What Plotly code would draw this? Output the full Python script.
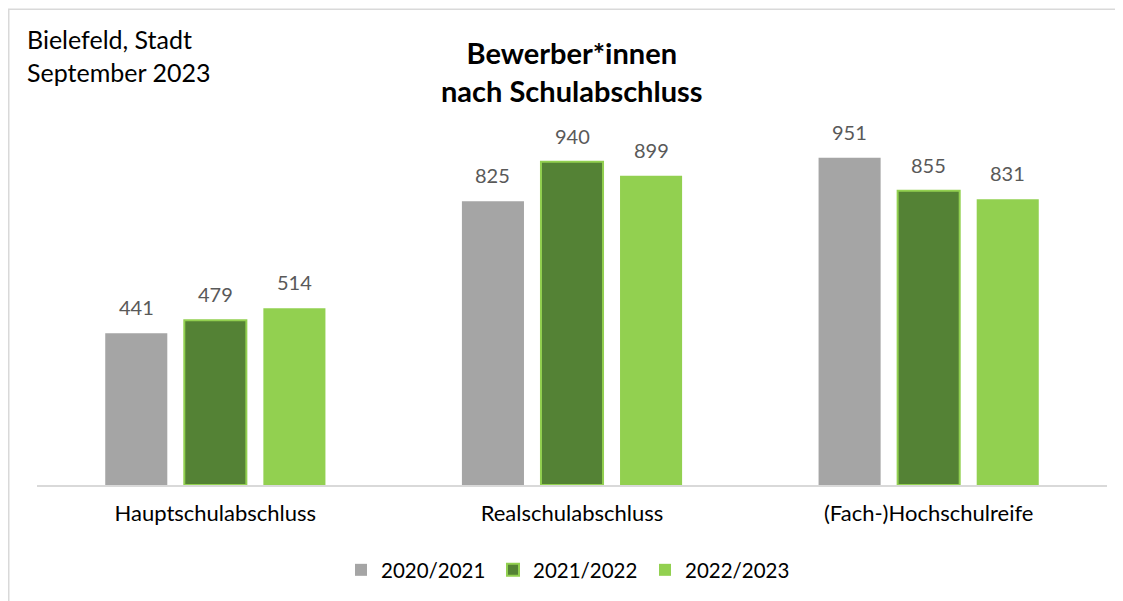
import plotly.graph_objects as go

categories = ["Hauptschulabschluss", "Realschulabschluss", "(Fach-)Hochschulreife"]
series_names = ["2020/2021", "2021/2022", "2022/2023"]
values_2020 = [441, 825, 951]
values_2021 = [479, 940, 855]
values_2022 = [514, 899, 831]
colors = ["#A5A5A5", "#548235", "#92D050"]
line_colors = ["#A5A5A5", "#92D050", "#92D050"]
line_widths = [0, 2, 0]

FONT = "Lato, 'Open Sans', sans-serif"
W, H = 1123, 601          # window size
OFF = 8                   # page body margin
FW, FH = W - OFF, H - OFF
PX0, PX1, PY0, PY1 = 37, 1107, 100, 486   # plot area in window pixels
pw, ph = PX1 - PX0, PY1 - PY0
BARGAP, GROUPGAP = 0.335, 0.215
slot = (1 - BARGAP) * (pw / len(categories)) / 3
scale = 0.3449  # px per unit

def px_x(sx):
    return (sx - PX0) / pw

def px_y(sy):
    return (PY1 - sy) / ph

fig = go.Figure()
all_vals = [values_2020, values_2021, values_2022]
for name, vals, c, lc, lw in zip(series_names, all_vals, colors, line_colors, line_widths):
    fig.add_trace(go.Bar(
        x=categories, y=vals, name=name,
        marker=dict(color=c, line=dict(color=lc, width=lw)),
    ))

annotations = []
for i, vals in enumerate(all_vals):
    for cat, v in zip(categories, vals):
        annotations.append(dict(
            x=cat, y=v, xref="x", yref="y", text=str(v), showarrow=False,
            xanchor="center", yanchor="bottom", xshift=(i - 1) * slot, yshift=12,
            font=dict(family=FONT, size=20, color="#595959"),
        ))

annotations += [
    dict(text="<b>Bewerber*innen<br>nach Schulabschluss</b>", x=px_x(572), y=px_y(71),
         xref="paper", yref="paper", xanchor="center", yanchor="middle", showarrow=False,
         font=dict(family=FONT, size=29, color="#000000"), align="center"),
    dict(text="Bielefeld, Stadt<br>September 2023", x=px_x(25), y=px_y(55),
         xref="paper", yref="paper", xanchor="left", yanchor="middle", showarrow=False,
         font=dict(family=FONT, size=25, color="#000000"), align="left"),
]

fig.update_layout(
    width=FW, height=FH,
    margin=dict(l=PX0 - OFF, r=W - PX1, t=PY0 - OFF, b=H - PY1),
    paper_bgcolor="white", plot_bgcolor="white",
    barmode="group", bargap=BARGAP, bargroupgap=GROUPGAP,
    font=dict(family=FONT, color="#000000"),
    showlegend=True,
    legend=dict(orientation="h", x=px_x(569), xanchor="center", y=px_y(570), yanchor="middle",
                font=dict(family=FONT, size=20.5, color="#000000"),
                itemwidth=30, traceorder="normal",
                entrywidth=107, entrywidthmode="pixels"),
    xaxis=dict(showgrid=False, showline=True, linecolor="#D9D9D9", linewidth=1.5,
               ticks="", tickfont=dict(family=FONT, size=22, color="#000000"),
               ticklabelstandoff=8),
    yaxis=dict(range=[0, ph / scale], visible=False, showgrid=False),
    annotations=annotations,
    shapes=[
        dict(type="rect", xref="paper", yref="paper", x0=px_x(OFF + 0.75), x1=px_x(1140),
             y0=px_y(640), y1=px_y(9), line=dict(color="#D9D9D9", width=1.5), layer="below"),
    ],
)

fig.write_html("out.html")
